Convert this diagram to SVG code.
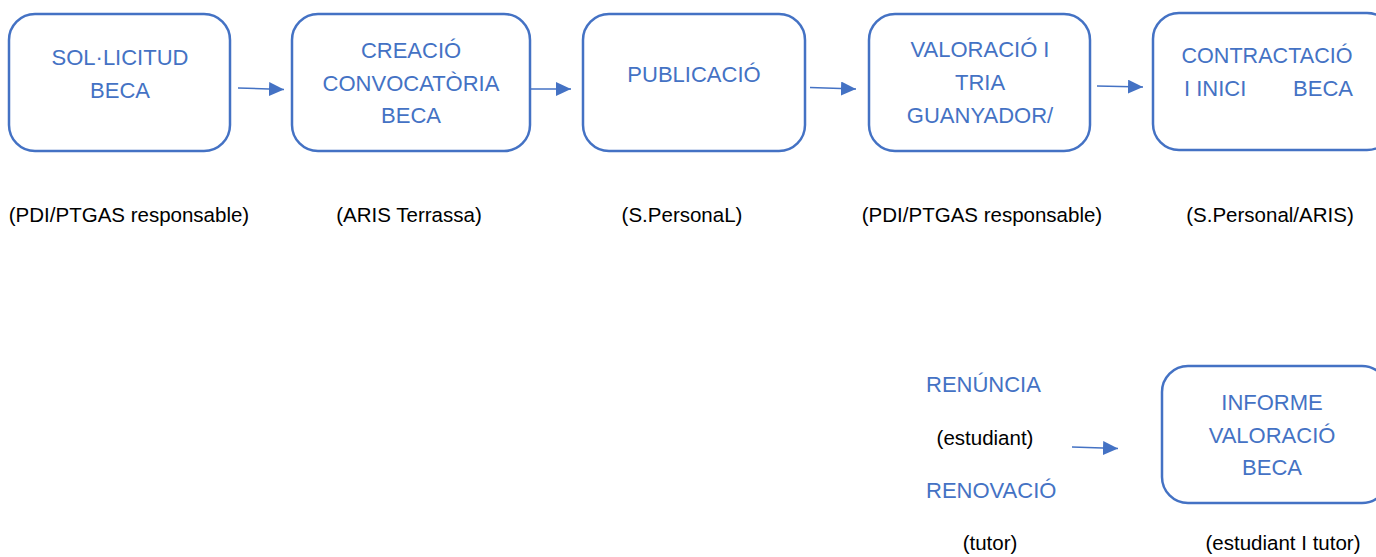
<svg xmlns="http://www.w3.org/2000/svg" width="1376" height="557" viewBox="0 0 1376 557">
<style>
.box{fill:#fff;stroke:#4472C4;stroke-width:2.5}
.bt{font-family:"Liberation Sans",Arial,sans-serif;font-size:22px;fill:#4472C4;text-anchor:middle}
.lt{font-family:"Liberation Sans",Arial,sans-serif;font-size:20.5px;fill:#000;text-anchor:middle}
.conn{stroke:#4472C4;stroke-width:1.5;fill:none}
</style>
<defs>
<marker id="ah" markerWidth="16" markerHeight="14" refX="15" refY="7" orient="auto" markerUnits="userSpaceOnUse">
<path d="M0,0 L15,7 L0,14 Z" fill="#4472C4"/>
</marker>
</defs>
<rect width="1376" height="557" fill="#fff"/>
<g id="n1">
<rect class="box" x="9" y="14" width="221" height="137" rx="26"/>
<text class="bt" x="120" y="65">SOL·LICITUD</text>
<text class="bt" x="120" y="98">BECA</text>
</g>
<g id="n2">
<rect class="box" x="292" y="14" width="238" height="137" rx="26"/>
<text class="bt" x="411" y="58">CREACIÓ</text>
<text class="bt" x="411" y="91">CONVOCATÒRIA</text>
<text class="bt" x="411" y="123">BECA</text>
</g>
<g id="n3">
<rect class="box" x="583" y="14" width="222" height="137" rx="26"/>
<text class="bt" x="694" y="82">PUBLICACIÓ</text>
</g>
<g id="n4">
<rect class="box" x="869" y="14" width="221" height="137" rx="26"/>
<text class="bt" x="980" y="57">VALORACIÓ I</text>
<text class="bt" x="980" y="90">TRIA</text>
<text class="bt" x="980" y="123">GUANYADOR/</text>
</g>
<g id="n5">
<rect class="box" x="1153" y="13" width="240" height="137" rx="26"/>
<text class="bt" x="1267" y="63" textLength="171" lengthAdjust="spacingAndGlyphs">CONTRACTACIÓ</text>
<text class="bt" x="1184" y="96" style="text-anchor:start">I INICI</text>
<text class="bt" x="1353" y="96" style="text-anchor:end">BECA</text>
</g>
<g id="n6">
<rect class="box" x="1162" y="366" width="226" height="137" rx="26"/>
<text class="bt" x="1272" y="410">INFORME</text>
<text class="bt" x="1272" y="443">VALORACIÓ</text>
<text class="bt" x="1272" y="475">BECA</text>
</g>
<g id="labels">
<text class="lt" x="129" y="222">(PDI/PTGAS responsable)</text>
<text class="lt" x="409" y="222">(ARIS Terrassa)</text>
<text class="lt" x="682" y="222">(S.PersonaL)</text>
<text class="lt" x="982" y="222">(PDI/PTGAS responsable)</text>
<text class="lt" x="1270" y="222">(S.Personal/ARIS)</text>
<text class="bt" x="926" y="392" style="text-anchor:start">RENÚNCIA</text>
<text class="lt" x="985" y="445">(estudiant)</text>
<text class="bt" x="926" y="498" style="text-anchor:start">RENOVACIÓ</text>
<text class="lt" x="990" y="550">(tutor)</text>
<text class="lt" x="1283" y="550">(estudiant I tutor)</text>
</g>
<g id="connectors">
<line class="conn" x1="238" y1="88" x2="284" y2="89.5" marker-end="url(#ah)"/>
<line class="conn" x1="530" y1="89" x2="571" y2="89" marker-end="url(#ah)"/>
<line class="conn" x1="810" y1="87.5" x2="856" y2="89" marker-end="url(#ah)"/>
<line class="conn" x1="1097" y1="86" x2="1143" y2="87" marker-end="url(#ah)"/>
<line class="conn" x1="1072" y1="447" x2="1118" y2="448.5" marker-end="url(#ah)"/>
</g>
</svg>
